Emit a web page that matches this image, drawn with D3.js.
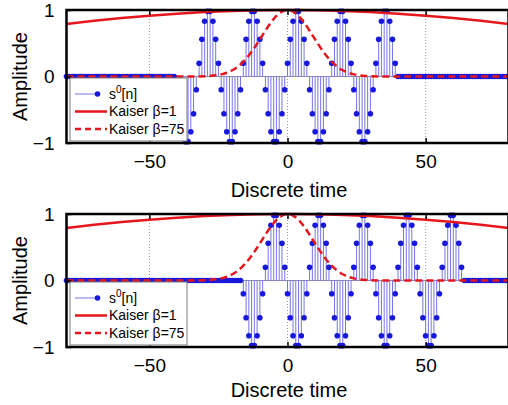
<!DOCTYPE html>
<html><head><meta charset="utf-8">
<script src="https://cdn.jsdelivr.net/npm/d3@7"></script>
<style>
body{margin:0;background:#fff;}
svg{display:block;font-family:"Liberation Sans",Arial,Helvetica,sans-serif;}
</style>
</head><body>
<svg id="chart" width="508" height="405"></svg>
<script>
// ---------- data ----------
const timeAxis = d3.range(-80, 81);          // discrete time n
const xTickValues = [-50, 0, 50];
const yTickValues = [-1, 0, 1];

// s0[n] non-zero segment, top panel (starts at n = -40)
const topStart = -40;
const topSignal = [
 -0.20,-0.56,-0.83,-0.98,-0.98,-0.83,-0.56,-0.20, 0.20,0.56,0.83,0.98,0.98,0.83,0.56,0.20,
 -0.20,-0.56,-0.83,-0.98,-0.98,-0.83,-0.56,-0.20, 0.20,0.56,0.83,0.98,0.98,0.83,0.56,0.20,
 -0.20,-0.56,-0.83,-0.98,-0.98,-0.83,-0.56,-0.20, 0.20,0.56,0.83,0.98,0.98,0.83,0.56,0.20,
 -0.20,-0.56,-0.83,-0.98,-0.98,-0.83,-0.56,-0.20, 0.20,0.56,0.83,0.98,0.98,0.83,0.56,0.20,
 -0.20,-0.56,-0.83,-0.98,-0.98,-0.83,-0.56,-0.20, 0.20,0.56,0.83,0.98,0.98,0.83,0.56,0.20
];
// s0[n] non-zero segment, bottom panel (starts at n = -16)
const bottomStart = -16;
const bottomSignal = [
 -0.20,-0.56,-0.83,-0.98,-0.98,-0.83,-0.56,-0.20, 0.20,0.56,0.83,0.98,0.98,0.83,0.56,0.20,
 -0.20,-0.56,-0.83,-0.98,-0.98,-0.83,-0.56,-0.20, 0.20,0.56,0.83,0.98,0.98,0.83,0.56,0.20,
 -0.20,-0.56,-0.83,-0.98,-0.98,-0.83,-0.56,-0.20, 0.20,0.56,0.83,0.98,0.98,0.83,0.56,0.20,
 -0.20,-0.56,-0.83,-0.98,-0.98,-0.83,-0.56,-0.20, 0.20,0.56,0.83,0.98,0.98,0.83,0.56,0.20,
 -0.20,-0.56,-0.83,-0.98,-0.98,-0.83,-0.56,-0.20, 0.20,0.56,0.83,0.98,0.98,0.83,0.56,0.20
];

// Kaiser window beta = 1
const kaiser1N = [-80,-70,-60,-50,-40,-30,-20,-10,0,10,20,30,40,50,60,70,80];
const kaiser1W = [0.790,0.837,0.879,0.915,0.945,0.969,0.986,0.997,1.000,0.997,0.986,0.969,0.945,0.915,0.879,0.837,0.790];

// Kaiser window beta = 75
const kaiser75N = [-80,-40,-34,-30,-28,-26,-24,-22,-20,-18,-16,-14,-12,-10,-8,-6,-4,-2,0,
                    2,4,6,8,10,12,14,16,18,20,22,24,26,28,30,34,40,80];
const kaiser75W = [0,0,0.001,0.004,0.009,0.018,0.032,0.057,0.094,0.148,0.222,0.317,0.431,0.558,0.688,0.811,0.911,0.977,1.000,
                    0.977,0.911,0.811,0.688,0.558,0.431,0.317,0.222,0.148,0.094,0.057,0.032,0.018,0.009,0.004,0.001,0,0];

const legendLabels = ["s0[n]", "Kaiser \u03b2=1", "Kaiser \u03b2=75"];
const xLabel = "Discrete time";
const yLabel = "Amplitude";

// ---------- drawing ----------
const svg = d3.select("#chart");
const red = "#e5161c", blue = "#1818dc", stemColor = "#7676e6";

const x = d3.scaleLinear().domain([-80, 80]).range([66.5, 508.5]);

const panels = [
  {top: 10, bottom: 143, start: topStart, sig: topSignal, labelY: 197},
  {top: 214, bottom: 347, start: bottomStart, sig: bottomSignal, labelY: 397}
];

panels.forEach(p => {
  const y = d3.scaleLinear().domain([-1, 1]).range([p.bottom, p.top]);
  const data = timeAxis.map(n => {
    const i = n - p.start;
    return {n, v: (i >= 0 && i < p.sig.length) ? p.sig[i] : 0};
  });
  const g = svg.append("g");

  // grid (x only, dotted)
  g.selectAll("line.grid").data(xTickValues).enter().append("line")
    .attr("x1", d => x(d)).attr("x2", d => x(d))
    .attr("y1", y(-1)).attr("y2", y(1))
    .attr("stroke", "#999").attr("stroke-width", 1).attr("stroke-dasharray", "1,2");

  // stem baseline
  g.append("line").attr("x1", x(-80)).attr("x2", x(80))
    .attr("y1", y(0)).attr("y2", y(0))
    .attr("stroke", "#8a8ab8").attr("stroke-width", 1);

  // stems
  g.selectAll("line.stem").data(data.filter(d => d.v !== 0)).enter().append("line")
    .attr("x1", d => x(d.n)).attr("x2", d => x(d.n))
    .attr("y1", y(0)).attr("y2", d => y(d.v))
    .attr("stroke", stemColor).attr("stroke-width", 1);

  // markers
  g.selectAll("circle.pt").data(data).enter().append("circle")
    .attr("cx", d => x(d.n)).attr("cy", d => y(d.v)).attr("r", 2.8)
    .attr("fill", blue);

  // Kaiser windows
  const line = d3.line().x(d => x(d[0])).y(d => y(d[1])).curve(d3.curveMonotoneX);
  g.append("path").datum(kaiser1N.map((n, i) => [n, kaiser1W[i]]))
    .attr("d", line).attr("fill", "none").attr("stroke", red).attr("stroke-width", 2.5);
  g.append("path").datum(kaiser75N.map((n, i) => [n, kaiser75W[i]]))
    .attr("d", line).attr("fill", "none").attr("stroke", red).attr("stroke-width", 2.5)
    .attr("stroke-dasharray", "7,4");

  // axes box
  g.append("rect").attr("x", x(-80)).attr("y", y(1))
    .attr("width", x(80) - x(-80)).attr("height", y(-1) - y(1))
    .attr("fill", "none").attr("stroke", "#000").attr("stroke-width", 2.5);

  // axes
  const ax = g.append("g").attr("transform", `translate(0,${y(-1)})`)
    .call(d3.axisBottom(x).tickValues(xTickValues).tickSize(-5).tickPadding(12));
  g.append("g").attr("transform", `translate(0,${y(1)})`)
    .call(d3.axisTop(x).tickValues(xTickValues).tickSize(-5).tickFormat(""));
  const ay = g.append("g").attr("transform", `translate(${x(-80)},0)`)
    .call(d3.axisLeft(y).tickValues(yTickValues).tickSize(-5).tickPadding(12).tickFormat(d3.format("d")));
  g.selectAll(".domain").remove();
  g.selectAll(".tick line").attr("stroke", "#000").attr("stroke-width", 1.5);
  g.selectAll(".tick text").attr("font-size", 19).attr("fill", "#000")
    .attr("font-family", "Liberation Sans, Arial, sans-serif");

  // labels
  g.append("text").attr("x", 289).attr("y", p.labelY).attr("text-anchor", "middle")
    .attr("font-size", 20).text(xLabel);
  g.append("text").attr("transform", `translate(27,${(p.top + p.bottom) / 2}) rotate(-90)`)
    .attr("text-anchor", "middle").attr("font-size", 20).text(yLabel);

  // legend
  const lx = 70, ly = y(0) + 1.5, lw = 117, lh = y(-1) - 2 - ly;
  const lg = g.append("g");
  lg.append("rect").attr("x", lx).attr("y", ly).attr("width", lw).attr("height", lh)
    .attr("fill", "#fff").attr("stroke", "#7a7a7a").attr("stroke-width", 1);
  const rows = [ly + 16, ly + 33.5, ly + 51];
  // entry 1: stem
  lg.append("line").attr("x1", 75).attr("x2", 97).attr("y1", rows[0]).attr("y2", rows[0])
    .attr("stroke", stemColor).attr("stroke-width", 1);
  lg.append("circle").attr("cx", 97.5).attr("cy", rows[0]).attr("r", 2.8).attr("fill", blue);
  // entry 2, 3: lines
  lg.append("line").attr("x1", 75).attr("x2", 107).attr("y1", rows[1]).attr("y2", rows[1])
    .attr("stroke", red).attr("stroke-width", 2.5);
  lg.append("line").attr("x1", 75).attr("x2", 107).attr("y1", rows[2]).attr("y2", rows[2])
    .attr("stroke", red).attr("stroke-width", 2.5).attr("stroke-dasharray", "6,4");
  // texts
  const t0 = lg.append("text").attr("x", 109).attr("y", rows[0]).attr("dy", "0.35em").attr("font-size", 14);
  t0.append("tspan").text("s");
  t0.append("tspan").attr("font-size", 10).attr("dy", "-0.55em").text("0");
  t0.append("tspan").attr("dy", "0.4em").text("[n]");
  lg.append("text").attr("x", 109).attr("y", rows[1]).attr("dy", "0.35em").attr("font-size", 14).text(legendLabels[1]);
  lg.append("text").attr("x", 109).attr("y", rows[2]).attr("dy", "0.35em").attr("font-size", 14).text(legendLabels[2]);
});
</script>
</body></html>
